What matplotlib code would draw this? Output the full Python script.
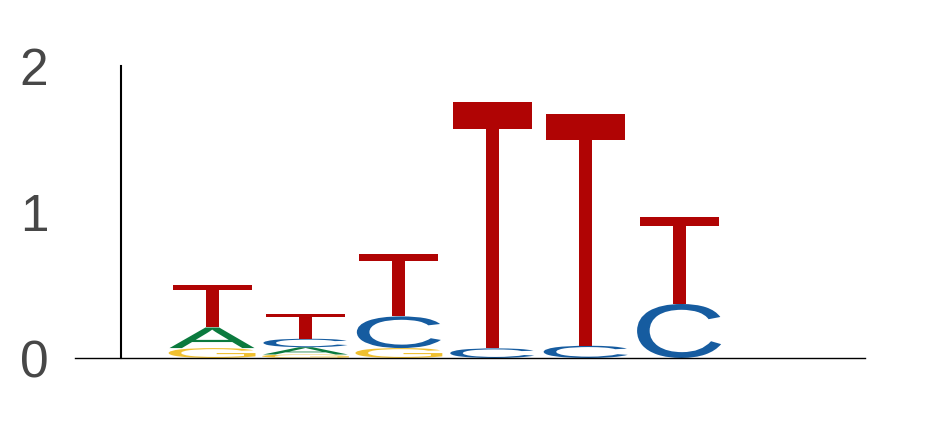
import matplotlib
matplotlib.use("Agg")
import matplotlib.pyplot as plt
from matplotlib.textpath import TextPath
from matplotlib.patches import PathPatch
from matplotlib.font_manager import FontProperties
from matplotlib.transforms import Affine2D

# information content (bits) per letter at each position
POSITIONS = [1, 2, 3, 4, 5, 6]
A_BITS = [0.141, 0.050, 0.0, 0.0, 0.0, 0.0]
C_BITS = [0.0, 0.058, 0.217, 0.066, 0.084, 0.370]
G_BITS = [0.068, 0.024, 0.068, 0.0, 0.0, 0.0]
T_BITS = [0.288, 0.166, 0.430, 1.690, 1.587, 0.598]
Y_TICKS = [0, 1, 2]

COLORS = {"A": "#0b7a3e", "C": "#165ca0", "G": "#f0c030", "T": "#b00404"}
WIDTHS = {"A": 0.91, "C": 0.90, "G": 0.93, "T": 0.845}
FONT = FontProperties(family="Liberation Sans")


def draw_letter(ax, letter, xc, y0, height):
    path = TextPath((0, 0), letter, size=1, prop=FONT)
    ext = path.get_extents()
    w = WIDTHS[letter]
    tr = (Affine2D()
          .translate(-ext.x0, -ext.y0)
          .scale(w / ext.width, height / ext.height)
          .translate(xc - w / 2, y0))
    patch = PathPatch(tr.transform_path(path), facecolor=COLORS[letter],
                      edgecolor="none", transform=ax.transData)
    ax.add_patch(patch)


fig = plt.figure(figsize=(9.31, 4.29), dpi=100)
ax = fig.add_axes([75 / 931, 71 / 429, 790 / 931, 292 / 429])

bits = {"A": A_BITS, "C": C_BITS, "G": G_BITS, "T": T_BITS}
for i, pos in enumerate(POSITIONS):
    stack = sorted(((bits[k][i], k) for k in bits), key=lambda t: t[0])
    base = 0.0
    for h, letter in stack:
        if h <= 0:
            continue
        draw_letter(ax, letter, pos, base, h)
        base += h

ax.set_xlim(-0.467, 7.99)
ax.set_ylim(0, 2)
for side in ["top", "right"]:
    ax.spines[side].set_visible(False)
ax.spines["left"].set_position(("data", 0.026))
ax.spines["left"].set_linewidth(1.5)
ax.spines["bottom"].set_linewidth(1.0)
ax.set_xticks([])
ax.set_yticks(Y_TICKS)
ax.tick_params(axis="y", length=0, pad=52.5, labelsize=37, labelcolor="#474747")
for lbl in ax.get_yticklabels():
    lbl.set_fontfamily("Liberation Sans")

fig.savefig("out.png", dpi=100)
